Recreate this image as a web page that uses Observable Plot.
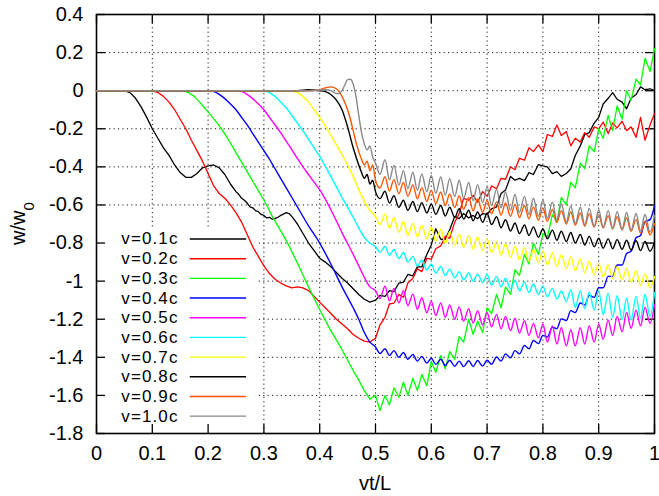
<!DOCTYPE html>
<html><head><meta charset="utf-8">
<script src="https://cdn.jsdelivr.net/npm/d3@7"></script>
<script src="https://cdn.jsdelivr.net/npm/@observablehq/plot@0.6"></script>
<style>
body{margin:0;background:#fff;}
svg{font-family:"Liberation Sans",Arial,Helvetica,sans-serif;}
</style>
</head><body><div id="chart"></div>
<script>
// ---------- data ----------
const seriesLabels = ["v=0.1c","v=0.2c","v=0.3c","v=0.4c","v=0.5c","v=0.6c","v=0.7c","v=0.8c","v=0.9c","v=1.0c"];
const seriesColors = ["#000000","#ff0000","#00ff00","#0000ff","#ff00ff","#00ffff","#ffff00","#000000","#ff5500","#888888"];
const xTicks = [0,0.1,0.2,0.3,0.4,0.5,0.6,0.7,0.8,0.9,1];
const yTicks = [0.4,0.2,0,-0.2,-0.4,-0.6,-0.8,-1,-1.2,-1.4,-1.6,-1.8];

// first part (x, y) for vt/L < 0.5
const v01Pre = [[0,0],[0.05,0],[0.06,-0.01],[0.07,-0.04],[0.08,-0.085],[0.09,-0.14],[0.10,-0.20],[0.11,-0.25],[0.12,-0.30],[0.13,-0.34],[0.14,-0.39],[0.15,-0.43],[0.16,-0.455],[0.17,-0.455],[0.18,-0.435],[0.19,-0.405],[0.20,-0.395],[0.21,-0.39],[0.22,-0.405],[0.23,-0.44],[0.24,-0.49],[0.25,-0.53],[0.255,-0.545],[0.26,-0.565],[0.265,-0.575],[0.27,-0.59],[0.275,-0.61],[0.28,-0.615],[0.285,-0.63],[0.29,-0.635],[0.295,-0.65],[0.30,-0.655],[0.305,-0.668],[0.31,-0.665],[0.315,-0.675],[0.32,-0.67],[0.325,-0.665],[0.33,-0.655],[0.335,-0.648],[0.34,-0.64],[0.345,-0.645],[0.35,-0.66],[0.355,-0.68],[0.36,-0.70],[0.37,-0.75],[0.38,-0.80],[0.39,-0.84],[0.40,-0.88],[0.41,-0.90],[0.42,-0.925],[0.43,-0.955],[0.44,-0.985],[0.45,-1.01],[0.46,-1.04],[0.47,-1.07],[0.48,-1.095],[0.49,-1.11]];
const v02Pre = [[0,0],[0.10,0],[0.11,-0.01],[0.12,-0.03],[0.13,-0.06],[0.14,-0.10],[0.15,-0.15],[0.16,-0.20],[0.17,-0.26],[0.18,-0.315],[0.19,-0.37],[0.20,-0.435],[0.21,-0.50],[0.22,-0.54],[0.23,-0.565],[0.24,-0.60],[0.25,-0.64],[0.26,-0.69],[0.27,-0.755],[0.28,-0.82],[0.29,-0.87],[0.30,-0.92],[0.31,-0.96],[0.32,-0.99],[0.33,-1.01],[0.34,-1.025],[0.35,-1.035],[0.36,-1.03],[0.37,-1.035],[0.38,-1.05],[0.39,-1.08],[0.40,-1.11],[0.41,-1.14],[0.42,-1.17],[0.43,-1.20],[0.44,-1.225],[0.45,-1.25],[0.46,-1.28],[0.47,-1.30],[0.48,-1.315],[0.49,-1.32]];
const v03Pre = [[0,0],[0.155,0],[0.165,-0.01],[0.175,-0.03],[0.185,-0.06],[0.195,-0.095],[0.205,-0.13],[0.215,-0.165],[0.225,-0.205],[0.235,-0.25],[0.245,-0.30],[0.255,-0.35],[0.265,-0.40],[0.275,-0.45],[0.285,-0.50],[0.295,-0.55],[0.305,-0.60],[0.315,-0.66],[0.325,-0.71],[0.335,-0.76],[0.345,-0.815],[0.36,-0.905],[0.38,-1.03],[0.40,-1.15],[0.42,-1.26],[0.44,-1.36],[0.46,-1.47],[0.47,-1.52],[0.48,-1.575],[0.49,-1.62]];
const v04Pre = [[0,0],[0.205,0],[0.215,-0.01],[0.225,-0.03],[0.235,-0.055],[0.25,-0.10],[0.26,-0.14],[0.27,-0.18],[0.28,-0.225],[0.29,-0.27],[0.30,-0.315],[0.31,-0.36],[0.32,-0.41],[0.33,-0.46],[0.34,-0.51],[0.36,-0.61],[0.38,-0.71],[0.40,-0.80],[0.42,-0.91],[0.44,-1.03],[0.46,-1.14],[0.47,-1.20],[0.48,-1.27],[0.49,-1.32]];
const v05Pre = [[0,0],[0.255,0],[0.265,-0.01],[0.275,-0.03],[0.285,-0.055],[0.30,-0.10],[0.31,-0.14],[0.32,-0.18],[0.33,-0.22],[0.34,-0.265],[0.35,-0.31],[0.36,-0.355],[0.37,-0.40],[0.38,-0.44],[0.39,-0.48],[0.40,-0.52],[0.42,-0.625],[0.44,-0.745],[0.46,-0.86],[0.47,-0.92],[0.48,-0.98],[0.49,-1.03]];
const v06Pre = [[0,0],[0.30,0],[0.31,-0.01],[0.32,-0.03],[0.33,-0.06],[0.34,-0.09],[0.35,-0.13],[0.36,-0.17],[0.37,-0.21],[0.38,-0.255],[0.39,-0.30],[0.40,-0.345],[0.42,-0.45],[0.44,-0.56],[0.46,-0.665],[0.47,-0.72],[0.48,-0.77],[0.49,-0.80]];
const v07Pre = [[0,0],[0.345,0],[0.36,-0.01],[0.37,-0.03],[0.38,-0.06],[0.39,-0.10],[0.40,-0.14],[0.41,-0.185],[0.42,-0.235],[0.43,-0.285],[0.44,-0.335],[0.45,-0.39],[0.46,-0.45],[0.47,-0.52],[0.48,-0.58],[0.49,-0.63]];
const v08Pre = [[0,0],[0.36,0],[0.38,0.005],[0.40,0.0],[0.41,-0.005],[0.42,-0.02],[0.43,-0.05],[0.44,-0.10],[0.45,-0.19],[0.46,-0.30],[0.47,-0.39],[0.475,-0.43],[0.48,-0.46],[0.485,-0.44],[0.49,-0.49],[0.495,-0.47]];
const v09Pre = [[0,0],[0.38,0],[0.40,0.005],[0.41,0.015],[0.42,0.02],[0.43,0.01],[0.44,-0.03],[0.45,-0.10],[0.455,-0.15],[0.46,-0.21],[0.465,-0.27],[0.47,-0.32],[0.475,-0.36],[0.48,-0.39],[0.485,-0.37],[0.49,-0.42],[0.495,-0.39]];
const v10Pre = [[0,0],[0.38,0],[0.41,0.005],[0.42,0.0],[0.43,-0.015],[0.435,-0.015],[0.44,0.0],[0.445,0.03],[0.45,0.058],[0.455,0.06],[0.46,0.035],[0.465,-0.03],[0.47,-0.13],[0.475,-0.22],[0.48,-0.28],[0.485,-0.31],[0.49,-0.29],[0.495,-0.35]];

// oscillating part, read on a common vt/L grid (0.5 .. 1)
const xOsc = [0.500,0.508,0.517,0.525,0.533,0.542,0.550,0.558,0.567,0.575,
  0.583,0.592,0.600,0.608,0.617,0.625,0.633,0.642,0.650,0.658,
  0.667,0.675,0.683,0.692,0.700,0.708,0.717,0.725,0.733,0.742,
  0.750,0.758,0.767,0.775,0.783,0.792,0.800,0.808,0.817,0.825,
  0.833,0.842,0.850,0.858,0.867,0.875,0.883,0.892,0.900,0.908,
  0.917,0.925,0.933,0.942,0.950,0.958,0.967,0.975,0.983,0.992,1.000];
const v01Post = [-1.10,-1.075,-1.08,-1.05,-1.055,-1.01,-1.005,-0.965,-0.972,-0.925,
  -0.925,-0.86,-0.81,-0.725,-0.78,-0.78,-0.73,-0.66,-0.672,-0.645,
  -0.668,-0.655,-0.672,-0.645,-0.65,-0.62,-0.61,-0.54,-0.522,-0.45,
  -0.47,-0.46,-0.472,-0.43,-0.44,-0.388,-0.395,-0.40,-0.435,-0.425,
  -0.45,-0.435,-0.41,-0.34,-0.29,-0.23,-0.22,-0.17,-0.14,-0.07,
  -0.04,-0.01,-0.045,-0.06,-0.095,-0.04,-0.02,0.02,0.005,0.01,0.0];
const v02Post = [-1.30,-1.23,-1.19,-1.12,-1.115,-1.07,-1.085,-1.01,-0.985,-0.935,
  -0.95,-0.88,-0.885,-0.83,-0.815,-0.765,-0.775,-0.69,-0.645,-0.565,
  -0.575,-0.55,-0.585,-0.53,-0.555,-0.50,-0.515,-0.46,-0.465,-0.40,
  -0.415,-0.355,-0.365,-0.30,-0.32,-0.285,-0.32,-0.23,-0.24,-0.18,
  -0.235,-0.215,-0.29,-0.25,-0.27,-0.22,-0.245,-0.19,-0.20,-0.165,
  -0.225,-0.17,-0.195,-0.16,-0.21,-0.19,-0.245,-0.14,-0.26,-0.18,-0.12];
const v03Post = [-1.60,-1.68,-1.60,-1.65,-1.56,-1.61,-1.53,-1.60,-1.51,-1.575,
  -1.49,-1.55,-1.42,-1.48,-1.39,-1.46,-1.37,-1.41,-1.29,-1.32,
  -1.20,-1.28,-1.21,-1.27,-1.14,-1.17,-1.07,-1.14,-1.03,-1.07,
  -0.94,-0.97,-0.86,-0.91,-0.80,-0.86,-0.75,-0.77,-0.65,-0.69,
  -0.56,-0.60,-0.48,-0.51,-0.38,-0.41,-0.29,-0.32,-0.20,-0.25,
  -0.13,-0.21,-0.08,-0.15,0.0,-0.05,0.06,0.03,0.17,0.10,0.22];
const v04Post = [-1.345,-1.38,-1.355,-1.39,-1.365,-1.40,-1.375,-1.41,-1.385,-1.42,
  -1.395,-1.43,-1.405,-1.437,-1.41,-1.443,-1.415,-1.447,-1.42,-1.449,
  -1.418,-1.448,-1.417,-1.446,-1.415,-1.437,-1.398,-1.42,-1.382,-1.403,
  -1.365,-1.382,-1.338,-1.355,-1.312,-1.328,-1.285,-1.293,-1.242,-1.25,
  -1.198,-1.207,-1.155,-1.165,-1.115,-1.125,-1.075,-1.085,-1.035,-1.035,
  -0.975,-0.975,-0.915,-0.915,-0.855,-0.843,-0.772,-0.76,-0.688,-0.677,-0.605];
const v05Post = [-1.05,-1.091,-1.027,-1.103,-1.038,-1.114,-1.05,-1.129,-1.068,-1.148,
  -1.087,-1.166,-1.105,-1.18,-1.115,-1.19,-1.125,-1.20,-1.135,-1.21,
  -1.145,-1.22,-1.155,-1.23,-1.165,-1.24,-1.175,-1.25,-1.185,-1.26,
  -1.195,-1.272,-1.208,-1.285,-1.222,-1.298,-1.225,-1.32,-1.235,-1.33,
  -1.245,-1.34,-1.255,-1.34,-1.245,-1.33,-1.235,-1.32,-1.225,-1.305,
  -1.205,-1.285,-1.185,-1.265,-1.165,-1.248,-1.152,-1.235,-1.138,-1.222,-1.125];
const v06Post = [-0.82,-0.848,-0.817,-0.865,-0.833,-0.882,-0.85,-0.90,-0.87,-0.92,
  -0.89,-0.94,-0.91,-0.957,-0.923,-0.97,-0.937,-0.983,-0.95,-0.993,
  -0.957,-1.0,-0.963,-1.007,-0.965,-1.02,-0.975,-1.03,-0.985,-1.04,
  -0.995,-1.05,-1.005,-1.06,-1.015,-1.07,-1.025,-1.082,-1.038,-1.095,
  -1.052,-1.108,-1.045,-1.138,-1.052,-1.145,-1.058,-1.152,-1.05,-1.177,
  -1.063,-1.19,-1.077,-1.203,-1.09,-1.205,-1.08,-1.195,-1.07,-1.185,-1.06];
const v07Post = [-0.66,-0.703,-0.647,-0.723,-0.667,-0.743,-0.687,-0.758,-0.697,-0.768,
  -0.707,-0.778,-0.717,-0.789,-0.729,-0.801,-0.74,-0.812,-0.752,-0.822,
  -0.76,-0.831,-0.769,-0.839,-0.777,-0.85,-0.79,-0.863,-0.804,-0.876,
  -0.817,-0.887,-0.825,-0.896,-0.834,-0.904,-0.842,-0.913,-0.852,-0.923,
  -0.862,-0.933,-0.872,-0.944,-0.884,-0.956,-0.895,-0.967,-0.907,-0.977,
  -0.915,-0.986,-0.924,-0.994,-0.932,-1.006,-0.947,-1.021,-0.962,-1.036,-0.977];
const v08Post = [-0.53,-0.567,-0.528,-0.59,-0.552,-0.613,-0.575,-0.628,-0.582,-0.635,
  -0.588,-0.642,-0.595,-0.649,-0.603,-0.658,-0.612,-0.666,-0.62,-0.674,
  -0.628,-0.683,-0.637,-0.691,-0.645,-0.703,-0.662,-0.72,-0.678,-0.737,
  -0.695,-0.75,-0.705,-0.76,-0.715,-0.77,-0.725,-0.778,-0.732,-0.785,
  -0.738,-0.792,-0.745,-0.80,-0.755,-0.81,-0.765,-0.82,-0.775,-0.827,
  -0.778,-0.83,-0.782,-0.833,-0.785,-0.837,-0.788,-0.84,-0.792,-0.843,-0.795];
const v09Post = [-0.47,-0.511,-0.452,-0.526,-0.467,-0.541,-0.482,-0.555,-0.495,-0.568,
  -0.509,-0.581,-0.522,-0.593,-0.532,-0.603,-0.542,-0.613,-0.552,-0.622,
  -0.56,-0.631,-0.569,-0.639,-0.577,-0.646,-0.584,-0.653,-0.59,-0.66,
  -0.597,-0.666,-0.604,-0.673,-0.61,-0.68,-0.617,-0.686,-0.624,-0.693,
  -0.63,-0.70,-0.637,-0.706,-0.642,-0.711,-0.647,-0.716,-0.652,-0.721,
  -0.657,-0.726,-0.662,-0.731,-0.667,-0.738,-0.677,-0.748,-0.687,-0.758,-0.697];
const v10Post = [-0.38,-0.439,-0.363,-0.468,-0.392,-0.496,-0.42,-0.514,-0.428,-0.523,
  -0.437,-0.531,-0.445,-0.539,-0.453,-0.548,-0.462,-0.556,-0.47,-0.566,
  -0.482,-0.578,-0.493,-0.589,-0.505,-0.602,-0.518,-0.615,-0.532,-0.628,
  -0.545,-0.64,-0.555,-0.65,-0.565,-0.66,-0.575,-0.67,-0.585,-0.68,
  -0.595,-0.69,-0.605,-0.698,-0.612,-0.705,-0.618,-0.712,-0.625,-0.718,
  -0.63,-0.723,-0.635,-0.728,-0.64,-0.733,-0.645,-0.738,-0.65,-0.743,-0.655];

const preParts = [v01Pre,v02Pre,v03Pre,v04Pre,v05Pre,v06Pre,v07Pre,v08Pre,v09Pre,v10Pre];
const postParts = [v01Post,v02Post,v03Post,v04Post,v05Post,v06Post,v07Post,v08Post,v09Post,v10Post];

// ---------- layout ----------
const W = 659, H = 496;
const mL = 96, mR = 5, mT = 14, mB = 63;
const xDom = [0, 1], yDom = [-1.8, 0.4];
const tickPx = 9;
const tX = tickPx / (W - mL - mR) * (xDom[1] - xDom[0]);
const tY = tickPx / (H - mT - mB) * (yDom[1] - yDom[0]);
const FS = 20;      // axis text
const LFS = 17;     // key text (rows are ~19.7 px apart)

const fmt = d => { const v = Math.round(d * 10) / 10; return v === 0 ? "0" : String(v); };

const series = seriesLabels.map((label, k) => {
  const rows = preParts[k].map(([x, y]) => ({x, y}));
  const post = postParts[k];
  const n = Math.min(post.length, xOsc.length);
  for (let i = 0; i < n; i++) rows.push({x: xOsc[i], y: post[i]});
  return {label, color: seriesColors[k], rows, noisy: k < 3};
});

// legend placement (data units of the frame)
const legTextX = 0.147, legLineX1 = 0.168, legLineX2 = 0.269;
const legTop = -0.779, legStep = 0.1033;
const legend = seriesLabels.map((label, k) => ({label, color: seriesColors[k], y: legTop - legStep * k}));
const keyBox = [{x1: 0, x2: 0.29, y1: -1.8, y2: -0.718}];

const marks = [
  Plot.gridX(xTicks, {stroke: "#000", strokeOpacity: 0.9, strokeWidth: 1, strokeDasharray: "1.2,3.2"}),
  Plot.gridY(yTicks, {stroke: "#000", strokeOpacity: 0.9, strokeWidth: 1, strokeDasharray: "1.2,3.2"}),
  Plot.rect(keyBox, {x1: "x1", x2: "x2", y1: "y1", y2: "y2", fill: "white"}),
  Plot.frame({stroke: "#000", strokeWidth: 1.6}),
  Plot.ruleX(xTicks, {x: d => d, y1: () => yDom[0], y2: () => yDom[0] + tY, stroke: "#000", strokeWidth: 1.3}),
  Plot.ruleX(xTicks, {x: d => d, y1: () => yDom[1] - tY, y2: () => yDom[1], stroke: "#000", strokeWidth: 1.3}),
  Plot.ruleY(yTicks, {y: d => d, x1: () => xDom[0], x2: () => xDom[0] + tX, stroke: "#000", strokeWidth: 1.3}),
  Plot.ruleY(yTicks, {y: d => d, x1: () => xDom[1] - tX, x2: () => xDom[1], stroke: "#000", strokeWidth: 1.3}),
  Plot.axisX(xTicks, {anchor: "bottom", tickSize: 0, tickPadding: 12, tickFormat: fmt, label: null, fontSize: FS, fill: "#000"}),
  Plot.axisY(yTicks, {anchor: "left", tickSize: 0, tickPadding: 13, tickFormat: fmt, label: null, fontSize: FS, fill: "#000"}),
  Plot.text(legend, {x: () => legTextX, y: "y", text: "label", textAnchor: "end", fontSize: LFS, fill: "#000",
      style: "letter-spacing:1.1px"}),
  Plot.ruleY(legend, {y: "y", x1: () => legLineX1, x2: () => legLineX2, stroke: "color", strokeWidth: 1.4}),
  ...series.map(s => Plot.line(s.rows, {x: "x", y: "y", stroke: s.color, strokeWidth: s.noisy ? 1.3 : 1.4,
      curve: s.noisy ? "linear" : "monotone-x"}))
];

const chart = Plot.plot({
  width: W, height: H,
  marginLeft: mL, marginRight: mR, marginTop: mT, marginBottom: mB,
  x: {domain: xDom, axis: null},
  y: {domain: yDom, axis: null},
  color: {type: "identity"},
  style: {fontFamily: '"Liberation Sans", Arial, Helvetica, sans-serif', fontSize: FS + "px", background: "#fff", color: "#000", overflow: "visible"},
  marks
});

const svg = d3.select(chart);
// legend text letter spacing (Plot text has no letterSpacing option)
svg.selectAll("g[aria-label='text'] text").attr("letter-spacing", "1.1px");
// x axis title
svg.append("text").attr("x", (mL + W - mR) / 2).attr("y", 490).attr("text-anchor", "middle")
  .attr("font-size", FS).attr("fill", "#000").text("vt/L");
// y axis title with subscript
const yt = svg.append("text").attr("transform", `translate(25,${(mT + H - mB) / 2}) rotate(-90)`)
  .attr("text-anchor", "middle").attr("font-size", FS).attr("fill", "#000");
yt.append("tspan").text("w/w");
yt.append("tspan").attr("baseline-shift", "sub").attr("font-size", FS * 0.75).text("0");

document.getElementById("chart").appendChild(chart);
</script>
</body></html>
